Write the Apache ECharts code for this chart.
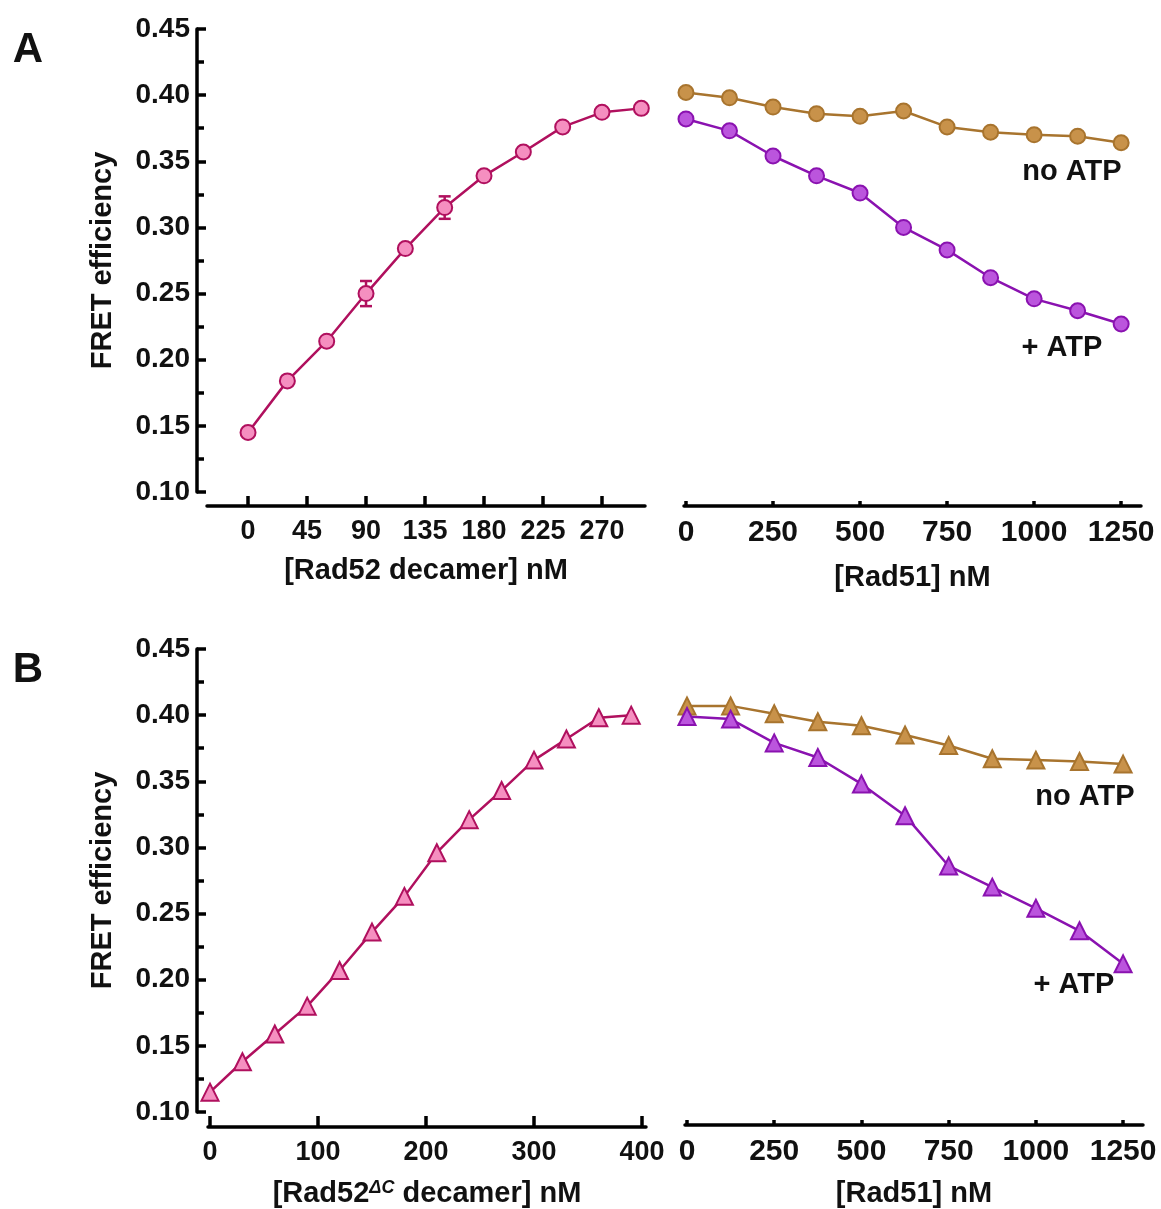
<!DOCTYPE html>
<html><head><meta charset="utf-8">
<script src="https://cdn.jsdelivr.net/npm/echarts@6/dist/echarts.min.js"></script>
<style>html,body{margin:0;padding:0;background:#fff}#c{width:1161px;height:1209px}</style>
</head><body><div id="c"></div>
<script>
// ---------- DATA ----------
const rad52X = [0, 30, 60, 90, 120, 150, 180, 210, 240, 270, 300];
const rad52Fret = [0.145, 0.184, 0.214, 0.250, 0.284, 0.315, 0.339, 0.357, 0.376, 0.387, 0.390];
const rad52Err = [0, 0, 0, 0.0095, 0, 0.0085, 0, 0, 0, 0, 0];

const rad51X = [0, 125, 250, 375, 500, 625, 750, 875, 1000, 1125, 1250];
const aNoATP = [0.402, 0.398, 0.391, 0.386, 0.384, 0.388, 0.376, 0.372, 0.370, 0.369, 0.364];
const aPlusATP = [0.382, 0.373, 0.354, 0.339, 0.326, 0.300, 0.283, 0.262, 0.246, 0.237, 0.227];

const rad52dcX = [0, 30, 60, 90, 120, 150, 180, 210, 240, 270, 300, 330, 360, 390];
const rad52dcFret = [0.115, 0.138, 0.159, 0.180, 0.207, 0.236, 0.263, 0.296, 0.321, 0.343, 0.366, 0.382, 0.398, 0.400];

const bNoATP = [0.407, 0.407, 0.401, 0.395, 0.392, 0.385, 0.377, 0.367, 0.366, 0.365, 0.363];
const bPlusATP = [0.399, 0.397, 0.379, 0.368, 0.348, 0.324, 0.286, 0.270, 0.254, 0.237, 0.212];

const xTicksA = [0, 45, 90, 135, 180, 225, 270];
const xTicksB = [0, 100, 200, 300, 400];
const xTicksRad51 = [0, 250, 500, 750, 1000, 1250];

// ---------- STYLE ----------
const FONT = '"Liberation Sans", Arial, sans-serif';
const C52 = {line: '#B0105E', fill: '#F58FC0'};
const CNO = {line: '#A8742E', fill: '#C8924A'};
const CPL = {line: '#8A12B0', fill: '#BB55DD'};

function yAxisLeft(gi, offset) {
  return {
    gridIndex: gi, type: 'value', min: 0.10, max: 0.45, interval: 0.05, offset: offset,
    name: 'FRET efficiency', nameLocation: 'middle', nameGap: 80, nameRotate: 90,
    nameTextStyle: {fontFamily: FONT, fontWeight: 'bold', fontSize: 29, color: '#111'},
    axisLine: {show: true, onZero: false, lineStyle: {color: '#000', width: 3.5}},
    axisTick: {show: true, inside: true, length: 9, lineStyle: {color: '#000', width: 3.5}},
    minorTick: {show: true, splitNumber: 2, length: 7, lineStyle: {color: '#000', width: 3.5}},
    axisLabel: {fontFamily: FONT, fontWeight: 'bold', fontSize: 28, color: '#111', margin: 7,
      formatter: v => v.toFixed(2)},
    splitLine: {show: false}
  };
}
function yAxisHidden(gi) {
  return {gridIndex: gi, type: 'value', min: 0.10, max: 0.45, show: false, splitLine: {show: false}};
}
function xAxis(gi, min, max, ticks, opts) {
  return {
    gridIndex: gi, type: 'value', min: min, max: max, position: 'bottom', offset: opts.offset,
    name: opts.name, nameLocation: 'middle', nameGap: opts.nameGap,
    nameTextStyle: {fontFamily: FONT, fontWeight: 'bold', fontSize: 29, color: '#111',
      rich: {sup: {fontFamily: FONT, fontWeight: 'bold', fontStyle: 'italic', fontSize: 18, color: '#111', verticalAlign: 'top', padding: [0, 0, 10, 0]}}},
    axisLine: {show: true, onZero: false, lineStyle: {color: '#000', width: 3.5}},
    axisTick: {show: true, inside: true, length: opts.tickLen, customValues: ticks, lineStyle: {color: '#000', width: 3.5}},
    axisLabel: {customValues: ticks, fontFamily: FONT, fontWeight: 'bold', fontSize: opts.labelSize, color: '#111', margin: opts.margin,
      formatter: v => String(v)},
    splitLine: {show: false}
  };
}
function lineSeries(gi, xs, ys, col, symbol, size) {
  return {
    type: 'line', xAxisIndex: gi, yAxisIndex: gi, z: 3,
    data: xs.map((x, i) => [x, ys[i]]),
    symbol: symbol, symbolSize: size, showSymbol: true,
    lineStyle: {color: col.line, width: 2.5},
    itemStyle: {color: col.fill, borderColor: col.line, borderWidth: 2},
    emphasis: {disabled: true}, animation: false
  };
}
function errSeries(gi, xs, ys, es, color) {
  return {
    type: 'custom', xAxisIndex: gi, yAxisIndex: gi, z: 2, animation: false,
    data: xs.map((x, i) => [x, ys[i], es[i]]).filter(d => d[2] > 0),
    renderItem(params, api) {
      const x = api.value(0), y = api.value(1), e = api.value(2);
      const t = api.coord([x, y + e]), b = api.coord([x, y - e]);
      const hw = 6;
      const st = {stroke: color, lineWidth: 2.5};
      return {type: 'group', children: [
        {type: 'line', shape: {x1: t[0], y1: t[1], x2: b[0], y2: b[1]}, style: st},
        {type: 'line', shape: {x1: t[0] - hw, y1: t[1], x2: t[0] + hw, y2: t[1]}, style: st},
        {type: 'line', shape: {x1: b[0] - hw, y1: b[1], x2: b[0] + hw, y2: b[1]}, style: st}
      ]};
    }
  };
}
function txt(x, y, s, size) {
  return {type: 'text', x: x, y: y, style: {text: s, fontFamily: FONT, fontWeight: 'bold', fontSize: size,
    fill: '#111', align: 'center', verticalAlign: 'middle'}};
}

const chart = echarts.init(document.getElementById('c'), null, {renderer: 'canvas'});
chart.setOption({
  backgroundColor: '#fff',
  animation: false,
  grid: [
    {left: 207, top: 29, width: 438, height: 463},
    {left: 684, top: 29, width: 457, height: 463},
    {left: 208, top: 649, width: 438, height: 464},
    {left: 685, top: 649, width: 458, height: 464}
  ],
  xAxis: [
    xAxis(0, -31.3, 302.8, xTicksA, {offset: 14, name: '[Rad52 decamer] nM', nameGap: 50, tickLen: 10, labelSize: 27, margin: 12}),
    xAxis(1, -5.7, 1307, xTicksRad51, {offset: 14, name: '[Rad51] nM', nameGap: 57, tickLen: 5, labelSize: 30, margin: 12}),
    xAxis(2, -1.85, 403.7, xTicksB, {offset: 15, name: '[Rad52{sup|ΔC} decamer] nM', nameGap: 52, tickLen: 11, labelSize: 27, margin: 12}),
    xAxis(3, -5.7, 1307, xTicksRad51, {offset: 13, name: '[Rad51] nM', nameGap: 54, tickLen: 5, labelSize: 30, margin: 12})
  ],
  yAxis: [yAxisLeft(0, 10), yAxisHidden(1), yAxisLeft(2, 11), yAxisHidden(3)],
  series: [
    errSeries(0, rad52X, rad52Fret, rad52Err, C52.line),
    lineSeries(0, rad52X, rad52Fret, C52, 'circle', 15),
    lineSeries(1, rad51X, aNoATP, CNO, 'circle', 15),
    lineSeries(1, rad51X, aPlusATP, CPL, 'circle', 15),
    lineSeries(2, rad52dcX, rad52dcFret, C52, 'triangle', 17),
    lineSeries(3, rad51X, bNoATP, CNO, 'triangle', 17),
    lineSeries(3, rad51X, bPlusATP, CPL, 'triangle', 17)
  ],
  graphic: [
    txt(28, 50, 'A', 42),
    txt(28, 670, 'B', 42),
    txt(1072, 172, 'no ATP', 29),
    txt(1062, 348, '+ ATP', 29),
    txt(1085, 797, 'no ATP', 29),
    txt(1074, 985, '+ ATP', 29)
  ]
});
</script>
</body></html>
